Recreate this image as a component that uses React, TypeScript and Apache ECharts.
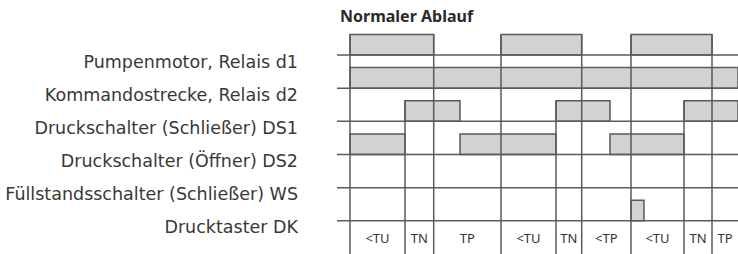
import React, { useEffect, useRef } from "react";
import * as echarts from "echarts";

const chartTitle = "Normaler Ablauf";
const signalNames = [
  "Pumpenmotor, Relais d1",
  "Kommandostrecke, Relais d2",
  "Druckschalter (Schließer) DS1",
  "Druckschalter (Öffner) DS2",
  "Füllstandsschalter (Schließer) WS",
  "Drucktaster DK",
];
// pulses per signal row: [start, end] in time units
const pulsesD1 = [[0, 83.7], [151, 231.7], [281, 362]];
const pulsesD2 = [[0, 388]];
const pulsesDS1 = [[55, 110], [206, 260], [334, 388]];
const pulsesDS2 = [[0, 55], [110, 206], [260, 334]];
const pulsesWS: number[][] = [];
const pulsesDK = [[281, 294]];
const pulseRows = [pulsesD1, pulsesD2, pulsesDS1, pulsesDS2, pulsesWS, pulsesDK];

const phaseLabels = ["<TU", "TN", "TP", "<TU", "TN", "<TP", "<TU", "TN", "TP"];
const phaseStarts = [0, 55, 83.7, 151, 206, 231.7, 281, 334, 362];
const timeStart = -13;
const timeEnd = 388;

const PULSE_H = 0.62;
const LINE = "#5a5a5a";
const FILL = "#d2d2d2";
const LABEL_FONT = "DejaVu Sans";
const FONT = "Noto Sans";

export default function App() {
  const ref = useRef<HTMLDivElement>(null);
  useEffect(() => {
    document.body.style.margin = "0";
    const chart = echarts.init(ref.current!, null, { renderer: "svg" });

    const pulseData: number[][] = [];
    pulseRows.forEach((row, r) => row.forEach(([s, e]) => pulseData.push([s, e, r])));

    const verticalData = phaseStarts.map((t) => {
      let startRow = 6;
      pulseRows.forEach((row, r) => {
        row.forEach(([s, e]) => {
          if ((Math.abs(s - t) < 0.01 || Math.abs(e - t) < 0.01) && r < startRow) startRow = r;
        });
      });
      return [t, startRow];
    });

    const phaseData = phaseStarts.map((s, i) => [
      s,
      i + 1 < phaseStarts.length ? phaseStarts[i + 1] : timeEnd,
      i,
    ]);

    chart.setOption({
      animation: false,
      title: {
        text: chartTitle,
        left: 340,
        top: 8,
        padding: 0,
        textStyle: { fontFamily: FONT, fontSize: 16, fontWeight: "bold", color: "#2a2a2a" },
      },
      grid: { left: 337, right: 0, top: 21.84, height: 237 },
      xAxis: { type: "value", min: timeStart, max: timeEnd, show: false },
      yAxis: { type: "value", min: -1, max: 6, inverse: true, show: false },
      series: [
        {
          type: "custom",
          name: "pulses",
          data: pulseData,
          renderItem: (params: any, api: any) => {
            const s = api.value(0), e = api.value(1), r = api.value(2);
            const p0 = api.coord([s, r - PULSE_H]);
            const p1 = api.coord([e, r]);
            return {
              type: "rect",
              shape: { x: p0[0], y: p0[1], width: p1[0] - p0[0], height: p1[1] - p0[1] },
              style: { fill: FILL, stroke: LINE, lineWidth: 1.5 },
            };
          },
        },
        {
          type: "custom",
          name: "baselines",
          data: signalNames.map((_, i) => [i]),
          renderItem: (params: any, api: any) => {
            const r = api.value(0);
            const a = api.coord([timeStart, r]);
            const b = api.coord([timeEnd, r]);
            return {
              type: "line",
              shape: { x1: a[0], y1: a[1], x2: b[0], y2: b[1] },
              style: { stroke: LINE, lineWidth: 1.5 },
            };
          },
        },
        {
          type: "custom",
          name: "verticals",
          data: verticalData,
          renderItem: (params: any, api: any) => {
            const t = api.value(0), r = api.value(1);
            const a = api.coord([t, r - PULSE_H]);
            const b = api.coord([t, 6]);
            return {
              type: "line",
              shape: { x1: a[0], y1: a[1], x2: b[0], y2: b[1] },
              style: { stroke: LINE, lineWidth: 1.5 },
            };
          },
        },
        {
          type: "custom",
          name: "phases",
          data: phaseData,
          renderItem: (params: any, api: any) => {
            const s = api.value(0), e = api.value(1), i = api.value(2);
            const p = api.coord([(s + e) / 2, 5.53]);
            return {
              type: "text",
              x: p[0],
              y: p[1],
              style: {
                text: phaseLabels[i],
                fill: "#333",
                fontFamily: FONT,
                fontSize: 13,
                align: "center",
                verticalAlign: "middle",
              },
            };
          },
        },
        {
          type: "custom",
          name: "signals",
          clip: false,
          data: signalNames.map((_, i) => [i]),
          renderItem: (params: any, api: any) => {
            const r = api.value(0);
            const p = api.coord([timeStart, r]);
            return {
              type: "text",
              x: p[0] - 39,
              y: p[1] + 6.5,
              style: {
                text: signalNames[r],
                fill: "#383838",
                fontFamily: LABEL_FONT,
                fontSize: 17.5,
                align: "right",
                verticalAlign: "middle",
              },
            };
          },
        },
      ],
    });
    return () => chart.dispose();
  }, []);
  return <div ref={ref} style={{ width: 738, height: 254 }} />;
}
